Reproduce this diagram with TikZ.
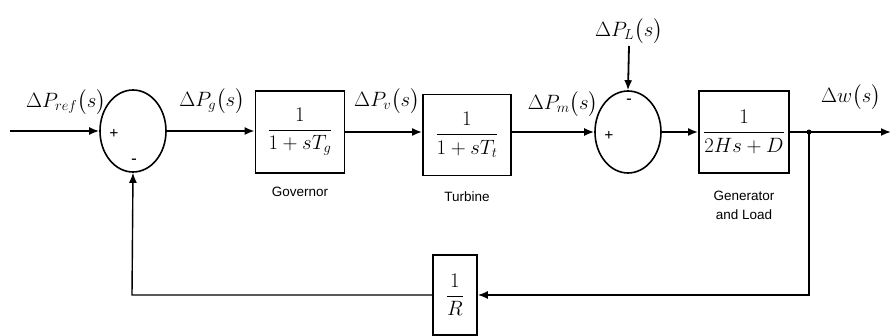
\documentclass[tikz,border=0pt]{standalone}
\usepackage{amsmath}
\usepackage{fontspec}
\setmainfont{Liberation Serif}
\newfontfamily\lsans{Liberation Sans}
\usetikzlibrary{shapes.geometric,arrows.meta}
\begin{document}
\begin{tikzpicture}[x=1pt,y=-1pt,
  sumnode/.style={draw,ellipse,line width=1.6pt,minimum width=66pt,minimum height=82pt,inner sep=0pt},
  blk/.style={draw,rectangle,line width=1.8pt,minimum width=89pt,minimum height=82pt,inner sep=0pt,font=\fontsize{21}{24}\selectfont},
  sig/.style={font=\fontsize{22}{26}\selectfont,inner sep=0pt},
  captxt/.style={font=\lsans\fontsize{13.5}{15}\selectfont,inner sep=0pt,align=center},
  sgn/.style={font=\bfseries\fontsize{16}{18}\selectfont,inner sep=0pt},
  wire/.style={line width=1.8pt},
  arr/.style={wire,-{Latex[length=10pt,width=8pt]}}]
\useasboundingbox (0,0) rectangle (891,336);
% nodes
\node[sumnode] (s1) at (133,131) {};
\node[sumnode] (s2) at (628,132) {};
\node[blk] (gov) at (300,132) {$\dfrac{1}{1+sT_g}$};
\node[blk,minimum width=88pt,minimum height=81pt] (tur) at (467,135) {$\dfrac{1}{1+sT_t}$};
\node[blk,minimum width=90pt] (gen) at (744,132) {$\dfrac{1}{2Hs+D}$};
\node[draw,rectangle,line width=1.8pt,minimum width=44pt,minimum height=80pt,inner sep=0pt,font=\fontsize{20}{23}\selectfont] (fb) at (455,295) {$\dfrac{1}{R}$};
% signs
\node[sgn] (p1) at (114,134) {+};
\node[sgn] (m1) at (134,161) {-};
\node[sgn] (p2) at (609,136) {+};
\node[sgn] (m2) at (629,101) {-};
% signal labels
\node[sig] (lref) at (66,102) {$\Delta P_{ref}\bigl(s\bigr)$};
\node[sig] (lg) at (212,101) {$\Delta P_{g}\bigl(s\bigr)$};
\node[sig] (lv) at (387,101) {$\Delta P_{v}\bigl(s\bigr)$};
\node[sig] (lm) at (563,104) {$\Delta P_{m}\bigl(s\bigr)$};
\node[sig] (lL) at (629,31) {$\Delta P_{L}\bigl(s\bigr)$};
\node[sig] (lw) at (851,97) {$\Delta w\bigl(s\bigr)$};
% captions
\node[captxt] (cg) at (300,192) {Governor};
\node[captxt] (ct) at (467,197) {Turbine};
\node[captxt] (cgen) at (744,205) {Generator\\[4pt]and Load};
% coordinates
\coordinate (in) at (10,131);
\coordinate (ltop) at (629,46);
\coordinate (br) at (809,132);
\coordinate (out) at (891,132);
\coordinate (brd) at (809,295);
\coordinate (bl) at (132,295);
% connectors
\draw[arr] (in) -- (s1.west);
\draw[arr] (s1.east) -- (gov.west |- s1.east);
\draw[arr] (gov.east) -- (gov.east -| tur.west);
\draw[arr] (tur.east |- s2.west) -- (s2.west);
\draw[arr] (ltop) -- (s2.north);
\draw[arr] (s2.east) -- (gen.west);
\draw[wire] (gen.east) -- (br);
\draw[arr] (br) -- (out);
\draw[arr,line width=1.4pt] (br) -- (brd) -- (fb.east);
\draw[arr,line width=1.4pt] (fb.west) -- (bl) -- (s1.south);
\fill (br) circle (2.5pt);
\end{tikzpicture}
\end{document}
